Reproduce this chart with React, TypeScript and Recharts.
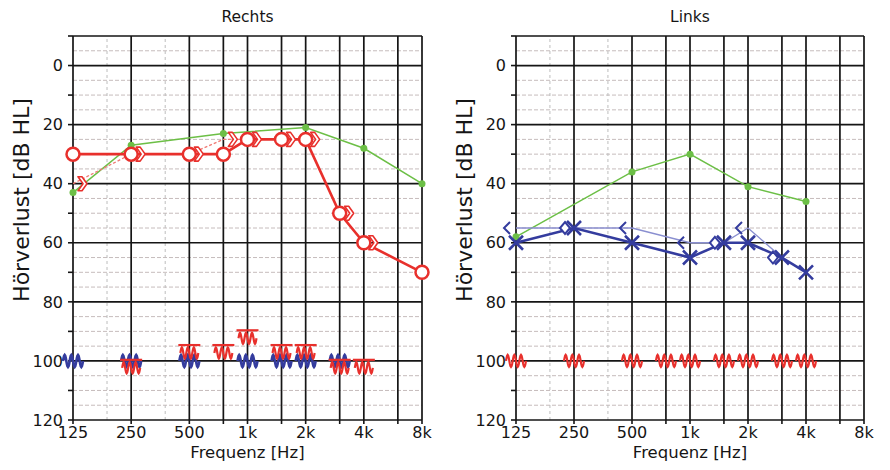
import React from 'react';
import { ComposedChart, Line, XAxis, YAxis, ReferenceLine } from 'recharts';

// ---- axes / grid ----
const freqTicks = [125, 250, 500, 1000, 2000, 4000, 8000];
const freqTickLabels = ['125', '250', '500', '1k', '2k', '4k', '8k'];
const freqGrid = [125, 250, 500, 750, 1000, 1500, 2000, 3000, 4000, 6000, 8000];
const freqGridDashed = [187.5, 375];
const dbTicks = [-10, 0, 10, 20, 30, 40, 50, 60, 70, 80, 90, 100, 110, 120];
const dbMajor = [-10, 0, 20, 40, 60, 80, 100, 120];
const dbMinor = [-5, 5, 10, 15, 25, 30, 35, 45, 50, 55, 65, 70, 75, 85, 90, 95, 105, 110, 115];

// ---- Rechts ----
const rAirFreq = [125, 250, 500, 750, 1000, 1500, 2000, 3000, 4000, 8000];
const rAirDb = [30, 30, 30, 30, 25, 25, 25, 50, 60, 70];
const rBoneFreq = [125, 250, 500, 750, 1000, 1500, 2000, 3000, 4000];
const rBoneDb = [40, 30, 30, 25, 25, 25, 25, 50, 60];
const rGreenFreq = [125, 250, 750, 2000, 4000, 8000];
const rGreenDb = [43, 27, 23, 21, 28, 40];
const rMaskBlueFreq = [125, 250, 500, 1000, 1500, 2000, 3000];
const rMaskBlueDb = [100, 100, 100, 100, 100, 100, 100];
const rMaskRedFreq = [250, 500, 750, 1000, 1500, 2000, 3000, 4000];
const rMaskRedDb = [102, 97, 97, 92, 97, 97, 102, 102];

// ---- Links ----
const lAirFreq = [125, 250, 500, 1000, 1500, 2000, 3000, 4000];
const lAirDb = [60, 55, 60, 65, 60, 60, 65, 70];
const lBoneFreq = [125, 250, 500, 1000, 1500, 2000, 3000];
const lBoneDb = [55, 55, 55, 60, 60, 55, 65];
const lBoneArrowFreq = [125, 500, 1000, 2000];
const lBoneArrowDb = [55, 55, 60, 55];
const lBoneDiamondFreq = [250, 1500, 3000];
const lBoneDiamondDb = [55, 60, 65];
const lGreenFreq = [125, 500, 1000, 2000, 4000];
const lGreenDb = [58, 36, 30, 41, 46];
const lMaskRedFreq = [125, 250, 500, 750, 1000, 1500, 2000, 3000, 4000];
const lMaskRedDb = [100, 100, 100, 100, 100, 100, 100, 100, 100];

const RED = '#e8302c';
const RED_LIGHT = '#f07a74';
const BLUE = '#343c9e';
const BLUE_LIGHT = '#8a8fd0';
const GREEN = '#6cbf46';
const FONT = 'DejaVu Sans, Verdana, sans-serif';
const INK = '#151515';

const pts = (f: number[], v: number[]) => f.map((x, i) => ({ f: x, v: v[i] }));

const wavePath = (w: number, amp: number, cycles: number, y0: number) => {
  const n = 36;
  let d = '';
  for (let i = 0; i <= n; i++) {
    const x = -w / 2 + (w * i) / n;
    const y = y0 - amp * Math.sin((2 * Math.PI * cycles * i) / n);
    d += (i === 0 ? 'M' : 'L') + x.toFixed(2) + ' ' + y.toFixed(2) + ' ';
  }
  return d;
};

const mk = (render: () => React.ReactElement) => (p: any) => {
  const { cx, cy, index } = p;
  if (cx == null || cy == null || isNaN(cx) || isNaN(cy)) return <g key={`e${index}`} />;
  return (
    <g key={`d${index}`} transform={`translate(${cx},${cy})`}>
      {render()}
    </g>
  );
};

const circleDot = mk(() => <circle r={6.5} fill="#fff" stroke={RED} strokeWidth={2.5} />);
const rightChevron = mk(() => (
  <path d="M5 -7 L9 -7 L14 0 L9 7 L5 7 L10 0 Z" fill="#fff" stroke={RED} strokeWidth={1.6} strokeLinejoin="round" />
));
const greenDot = mk(() => <circle r={3.5} fill={GREEN} stroke="none" />);
const blueWave = mk(() => (
  <path d={wavePath(20, 6, 3, 0)} fill="none" stroke={BLUE} strokeWidth={2.6} />
));
const redWave = mk(() => (
  <path d={wavePath(20, 6, 3, 0)} fill="none" stroke={RED} strokeWidth={2.2} />
));
const redBarWave = mk(() => (
  <g>
    <path d="M-11 -7 L11 -7" stroke={RED} strokeWidth={2.2} />
    <path d={wavePath(18, 5.5, 3, 1)} fill="none" stroke={RED} strokeWidth={2.2} />
  </g>
));
const crossDot = mk(() => (
  <path d="M-7 -7 L7 7 M-7 7 L7 -7" stroke={BLUE} strokeWidth={2.6} fill="none" />
));
const leftChevron = mk(() => (
  <path d="M-6 -6 L-12 0 L-6 6" stroke={BLUE} strokeWidth={2} fill="none" />
));
const diamondDot = mk(() => (
  <path d="M-9 -6 L-4 0 L-9 6 L-14 0 Z" stroke={BLUE} strokeWidth={2} fill="#fff" />
));

const tickLabelFor = (v: number) => {
  const i = freqTicks.indexOf(v);
  return i >= 0 ? freqTickLabels[i] : '';
};

type PanelProps = {
  title: string;
  left: number;
  yAxisWidth: number;
  marginRight: number;
  children: React.ReactNode;
};

function Panel({ title, left, yAxisWidth, marginRight, children }: PanelProps) {
  return (
    <div style={{ position: 'absolute', left, top: 0 }}>
      <ComposedChart width={445} height={470} margin={{ top: 32, right: marginRight, bottom: 4, left: 0 }}>
        <XAxis
          dataKey="f"
          type="number"
          scale="log"
          domain={[125, 8000]}
          ticks={freqGrid}
          interval={0}
          tickFormatter={tickLabelFor}
          axisLine={false}
          tickLine={{ stroke: INK, strokeWidth: 1.6 }}
          tickSize={4}
          tickMargin={3}
          height={46}
          tick={{ fontSize: 16, fill: INK, fontFamily: FONT }}
          label={(p: any) => (
            <text
              x={p.viewBox.x + p.viewBox.width / 2}
              y={p.viewBox.y + 38}
              textAnchor="middle"
              fontSize={16.5}
              fontFamily={FONT}
              fill={INK}
            >
              Frequenz [Hz]
            </text>
          )}
        />
        <XAxis
          xAxisId="top"
          orientation="top"
          dataKey="f"
          type="number"
          scale="log"
          domain={[125, 8000]}
          ticks={freqGrid}
          interval={0}
          tick={false}
          axisLine={false}
          tickLine={{ stroke: INK, strokeWidth: 1.6 }}
          tickSize={4}
          height={4}
          label={(p: any) => (
            <text
              x={p.viewBox.x + p.viewBox.width / 2}
              y={21.5}
              textAnchor="middle"
              fontSize={15.5}
              fontFamily={FONT}
              fill={INK}
            >
              {title}
            </text>
          )}
        />
        <YAxis
          type="number"
          domain={[-10, 120]}
          reversed
          ticks={dbTicks}
          interval={0}
          tickFormatter={(v: number) => (v % 20 === 0 ? String(v) : '')}
          axisLine={false}
          tickLine={{ stroke: INK, strokeWidth: 1.6 }}
          tickSize={5}
          tickMargin={5}
          width={yAxisWidth}
          tick={{ fontSize: 16, fill: INK, fontFamily: FONT }}
          label={(p: any) => {
            const cx = p.viewBox.x + p.viewBox.width - 52;
            const cy = p.viewBox.y + p.viewBox.height / 2 - 28;
            return (
              <text
                x={cx}
                y={cy}
                transform={`rotate(-90 ${cx} ${cy})`}
                textAnchor="middle"
                dominantBaseline="central"
                fontSize={22}
                fontFamily={FONT}
                fill={INK}
              >
                Hörverlust [dB HL]
              </text>
            );
          }}
        />
        <YAxis
          yAxisId="right"
          orientation="right"
          type="number"
          domain={[-10, 120]}
          reversed
          ticks={dbTicks}
          interval={0}
          tick={false}
          axisLine={false}
          tickLine={{ stroke: INK, strokeWidth: 1.6 }}
          tickSize={5}
          width={8}
        />
        {dbMinor.map((d) => (
          <ReferenceLine key={`hm${d}`} y={d} stroke="#c6bcbc" strokeWidth={1} strokeDasharray="4 2" />
        ))}
        {freqGridDashed.map((f) => (
          <ReferenceLine key={`vd${f}`} x={f} stroke="#bdbdbd" strokeWidth={1} strokeDasharray="3 3" />
        ))}
        {dbMajor.map((d) => (
          <ReferenceLine key={`hM${d}`} y={d} stroke={INK} strokeWidth={1.7} />
        ))}
        {freqGrid.map((f) => (
          <ReferenceLine key={`vM${f}`} x={f} stroke={INK} strokeWidth={1.7} />
        ))}
        {children}
      </ComposedChart>
    </div>
  );
}

export default function App() {
  return (
    <div style={{ position: 'absolute', left: 0, top: 0, width: 890, height: 470, background: '#fff' }}>
      <Panel title="Rechts" left={0} yAxisWidth={73} marginRight={15}>
        <Line data={pts(rGreenFreq, rGreenDb)} dataKey="v" stroke={GREEN} strokeWidth={1.5} dot={greenDot} activeDot={false} isAnimationActive={false} />
        <Line data={pts(rBoneFreq, rBoneDb)} dataKey="v" stroke={RED_LIGHT} strokeWidth={1.3} strokeDasharray="3 2" dot={false} activeDot={false} isAnimationActive={false} />
        <Line data={pts(rAirFreq, rAirDb)} dataKey="v" stroke={RED} strokeWidth={2.6} dot={circleDot} activeDot={false} isAnimationActive={false} />
        <Line data={pts(rBoneFreq, rBoneDb)} dataKey="v" stroke="none" dot={rightChevron} activeDot={false} isAnimationActive={false} />
        <Line data={pts(rMaskBlueFreq, rMaskBlueDb)} dataKey="v" stroke="none" dot={blueWave} activeDot={false} isAnimationActive={false} />
        <Line data={pts(rMaskRedFreq, rMaskRedDb)} dataKey="v" stroke="none" dot={redBarWave} activeDot={false} isAnimationActive={false} />
      </Panel>
      <Panel title="Links" left={445} yAxisWidth={71} marginRight={18}>
        <Line data={pts(lGreenFreq, lGreenDb)} dataKey="v" stroke={GREEN} strokeWidth={1.5} dot={greenDot} activeDot={false} isAnimationActive={false} />
        <Line data={pts(lBoneFreq, lBoneDb)} dataKey="v" stroke={BLUE_LIGHT} strokeWidth={1.4} dot={false} activeDot={false} isAnimationActive={false} />
        <Line data={pts(lAirFreq, lAirDb)} dataKey="v" stroke={BLUE} strokeWidth={2.6} dot={crossDot} activeDot={false} isAnimationActive={false} />
        <Line data={pts(lBoneArrowFreq, lBoneArrowDb)} dataKey="v" stroke="none" dot={leftChevron} activeDot={false} isAnimationActive={false} />
        <Line data={pts(lBoneDiamondFreq, lBoneDiamondDb)} dataKey="v" stroke="none" dot={diamondDot} activeDot={false} isAnimationActive={false} />
        <Line data={pts(lMaskRedFreq, lMaskRedDb)} dataKey="v" stroke="none" dot={redWave} activeDot={false} isAnimationActive={false} />
      </Panel>
    </div>
  );
}
